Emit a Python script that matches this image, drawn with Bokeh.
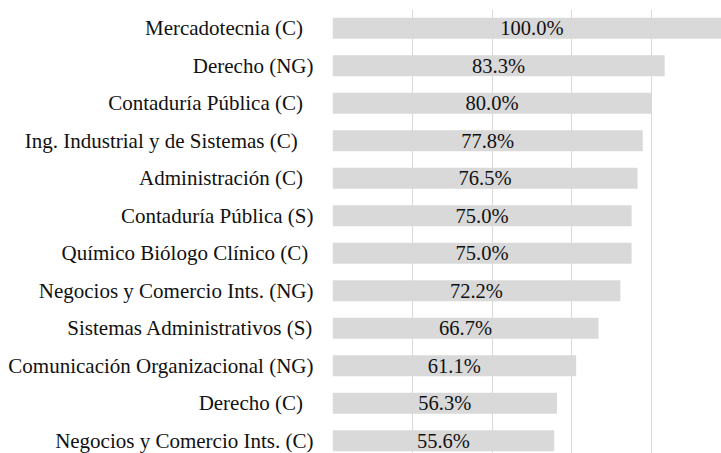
from bokeh.plotting import figure
from bokeh.models import ColumnDataSource, Range1d, FixedTicker
from bokeh.core.properties import value
from bokeh.embed import file_html
from bokeh.resources import INLINE

NBSP = "\u00a0"
categories = [
    "Mercadotecnia (C)" + NBSP * 2,
    "Derecho (NG)",
    "Contaduría Pública (C)" + NBSP * 2,
    "Ing. Industrial y de Sistemas (C)" + NBSP * 3,
    "Administración (C)" + NBSP * 2,
    "Contaduría Pública (S)",
    "Químico Biólogo Clínico (C)" + NBSP,
    "Negocios y Comercio Ints. (NG)",
    "Sistemas Administrativos (S)",
    "Comunicación Organizacional (NG)",
    "Derecho (C)" + NBSP * 2,
    "Negocios y Comercio Ints. (C)",
]
values = [100.0, 83.3, 80.0, 77.8, 76.5, 75.0, 75.0, 72.2, 66.7, 61.1, 56.3, 55.6]
grid_ticks = [0, 20, 40, 60, 80, 100]

FONT = "Liberation Serif"

n = len(categories)
ypos = [n - 1 - i for i in range(n)]
src = ColumnDataSource(dict(
    y=ypos,
    v=values,
    mid=[v / 2 for v in values],
    lab=[f"{v:.1f}%" for v in values],
))

p = figure(width=721, height=453, output_backend="svg", toolbar_location=None,
           x_range=Range1d(0, 97.55), y_range=Range1d(-0.34, n - 0.5),
           min_border_left=332, min_border_right=0, min_border_top=9, min_border_bottom=0)
p.outline_line_color = None
p.background_fill_color = "white"
p.border_fill_color = "white"

p.hbar(y="y", right="v", left=0, height=0.56, source=src,
       fill_color="#D9D9D9", line_color=None)
p.text(x="mid", y="y", text="lab", source=src, text_align="center",
       text_baseline="middle", text_font=value(FONT),
       text_font_size="20.5px", text_color="#111111")

p.xaxis.visible = False
p.xaxis.ticker = FixedTicker(ticks=grid_ticks)
p.xgrid.ticker = FixedTicker(ticks=grid_ticks)
p.xgrid.grid_line_color = "#D9D9D9"
p.xgrid.grid_line_width = 1
p.ygrid.grid_line_color = None

ya = p.yaxis[0]
ya.ticker = FixedTicker(ticks=ypos)
ya.major_label_overrides = {y: c for y, c in zip(ypos, categories)}
ya.axis_line_color = None
ya.major_tick_line_color = None
ya.minor_tick_line_color = None
ya.major_tick_out = 0
ya.major_tick_in = 0
ya.major_label_standoff = 19
ya.major_label_text_font = FONT
ya.major_label_text_font_size = "21px"
ya.major_label_text_color = "#111111"

open("out.html", "w").write(file_html(p, INLINE))
